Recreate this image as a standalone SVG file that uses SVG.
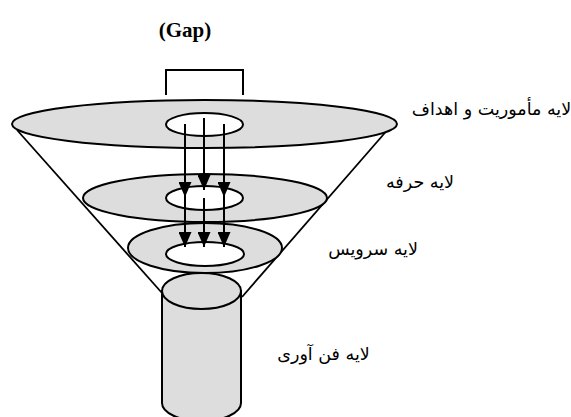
<svg xmlns="http://www.w3.org/2000/svg" width="571" height="417" viewBox="0 0 571 417">
<style>
.disc{fill:#dddddd;stroke:#000;stroke-width:2}
.hole{fill:#fff;stroke:#000;stroke-width:2}
.edge{stroke:#000;stroke-width:1.8;fill:none}
.arr{stroke:#000;stroke-width:2;fill:none;marker-end:url(#head)}
.lbl{font-family:"DejaVu Sans",sans-serif;font-size:17.5px;fill:#000;text-anchor:middle}
.gap{font-family:"Liberation Serif",serif;font-weight:bold;font-size:21px;fill:#000;text-anchor:middle}
</style>
<defs>
<marker id="head" markerUnits="userSpaceOnUse" markerWidth="15" markerHeight="13" refX="15" refY="6.5" orient="auto">
<path d="M0,0 L15,6.5 L0,13 Z" fill="#000"/>
</marker>
</defs>
<rect width="571" height="417" fill="#fff"/>
<g id="connectors-funnel">
<line class="edge" x1="17" y1="130" x2="162" y2="293"/>
<line class="edge" x1="390" y1="127" x2="242" y2="297"/>
</g>
<g id="gap">
<text class="gap" x="185" y="37">(Gap)</text>
<path d="M166,95 V70 H243 V95" fill="none" stroke="#000" stroke-width="2"/>
</g>
<g id="mission-layer">
<ellipse class="disc" cx="204.5" cy="124" rx="192.5" ry="24"/>
<ellipse class="hole" cx="204.5" cy="124.5" rx="38.5" ry="11.5"/>
<text class="lbl" x="491.5" y="115">لایه مأموریت و اهداف</text>
</g>
<g id="profession-layer">
<ellipse class="disc" cx="205" cy="198" rx="122" ry="24"/>
<ellipse class="hole" cx="204.5" cy="198" rx="38.5" ry="12"/>
<text class="lbl" x="420" y="188">لایه حرفه</text>
</g>
<g id="service-layer">
<ellipse class="disc" cx="205" cy="248" rx="77" ry="25"/>
<ellipse class="hole" cx="205" cy="254" rx="39" ry="12"/>
<text class="lbl" x="373" y="255">لایه سرویس</text>
</g>
<g id="technology-layer">
<path class="disc" d="M162,291 L162,403 A39.5,18 0 0 0 241,403 L241,291 Z"/>
<ellipse class="disc" cx="201.5" cy="291" rx="39.5" ry="18" fill="#e2e2e2"/>
<text class="lbl" x="323.5" y="360">لایه فن آوری</text>
</g>
<g id="connectors">
<line class="arr" x1="185" y1="124" x2="185" y2="197"/>
<line class="arr" x1="204" y1="118" x2="204" y2="190"/>
<line class="arr" x1="224" y1="124" x2="224" y2="197"/>
<line class="arr" x1="185" y1="197" x2="185" y2="247"/>
<line class="arr" x1="204" y1="198" x2="204" y2="247"/>
<line class="arr" x1="224" y1="197" x2="224" y2="247"/>
</g>
</svg>
